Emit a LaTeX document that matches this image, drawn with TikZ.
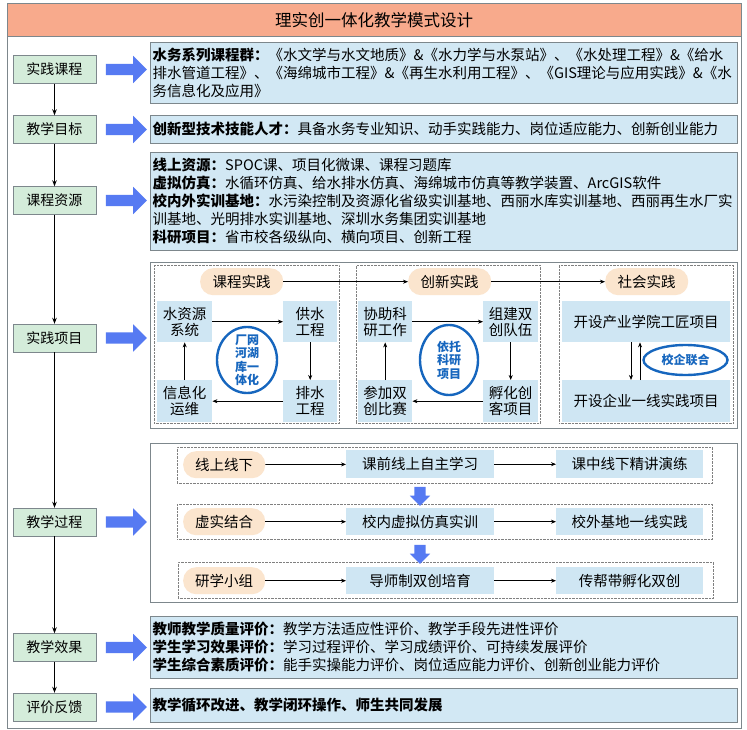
\documentclass[tikz,border=0pt]{standalone}
\usepackage{fontspec}
\setmainfont{Noto Sans CJK SC}
\usetikzlibrary{arrows.meta,shapes.geometric,shapes.arrows}
\definecolor{titlefill}{RGB}{248,170,140}
\definecolor{leftfill}{RGB}{212,236,218}
\definecolor{tfill}{RGB}{210,232,244}
\definecolor{ifill}{RGB}{207,230,243}
\definecolor{pfill}{RGB}{251,229,206}
\definecolor{ablue}{RGB}{86,122,242}
\definecolor{eblue}{RGB}{22,102,190}
\definecolor{bgray}{RGB}{125,135,140}
\tikzset{
 lbox/.style={draw=bgray, fill=leftfill, minimum width=83pt, minimum height=28pt, inner sep=0pt, font=\fontsize{14}{16}\selectfont},
 tbox/.style={draw=bgray, fill=tfill, anchor=north west, inner xsep=2.5pt, inner ysep=0pt, text width=582pt, align=left, font=\fontsize{14.5}{18}\selectfont},
 obox/.style={draw=bgray, fill=white, anchor=north west, inner sep=0pt},
 dbox/.style={draw=gray, densely dotted, anchor=north west, inner sep=0pt},
 ibox/.style={fill=ifill, anchor=north west, inner sep=0pt, align=center, font=\fontsize{14.5}{16}\selectfont},
 pill/.style={fill=pfill, rounded corners=13pt, anchor=north west, minimum width=83pt, minimum height=27pt, inner sep=0pt, font=\fontsize{14.5}{16}\selectfont},
 barrow/.style={single arrow, fill=ablue, draw=none, inner xsep=0pt, inner ysep=5.5pt, text height=0pt, text depth=0pt, text width=0pt, minimum height=41pt, minimum width=27pt, single arrow head extend=8pt},
 darrow/.style={single arrow, rotate=-90, fill=ablue, draw=none, inner xsep=0pt, inner ysep=5.5pt, text height=0pt, text depth=0pt, text width=0pt, minimum height=19pt, minimum width=20pt, single arrow head extend=4.5pt},
 conn/.style={-{Stealth[length=5pt,width=4pt]}, line width=0.7pt},
 vconn/.style={-{Stealth[length=6pt,width=4.5pt]}, line width=1.2pt},
 ell/.style={ellipse, draw=eblue, line width=2.4pt, inner sep=0pt},
 etext/.style={text=eblue, inner sep=0pt, align=center, font=\bfseries\fontsize{12}{13.5}\selectfont},
}
\begin{document}
\begin{tikzpicture}[x=1pt,y=-1pt]
\useasboundingbox (0,0) rectangle (747,730);
% frame and title
\node[draw=bgray, fill=white, anchor=north west, minimum width=734pt, minimum height=725pt, inner sep=0pt] (frame) at (7,3) {};
\node[draw=bgray, fill=titlefill, anchor=north west, minimum width=734pt, minimum height=33pt, inner sep=0pt, font=\fontsize{16.5}{18}\selectfont] (title) at (7,3) {理实创一体化教学模式设计};
% left column
\node[lbox] (l1) at (54.5,69.5) {实践课程};
\node[lbox] (l2) at (54.5,129.5) {教学目标};
\node[lbox] (l3) at (54.5,200.5) {课程资源};
\node[lbox] (l4) at (54.5,338) {实践项目};
\node[lbox] (l5) at (54.5,522) {教学过程};
\node[lbox] (l6) at (54.5,647.5) {教学效果};
\node[lbox] (l7) at (54.5,707) {评价反馈};
\draw[vconn] (l1) -- (l2);
\draw[vconn] (l2) -- (l3);
\draw[vconn] (l3) -- (l4);
\draw[vconn] (l4) -- (l5);
\draw[vconn] (l5) -- (l6);
\draw[vconn] (l6) -- (l7);
% big arrows
\node[barrow] (a1) at (123.5,69.5) {};
\node[barrow] (a2) at (123.5,129.5) {};
\node[barrow] (a3) at (123.5,200.5) {};
\node[barrow] (a4) at (123.5,338) {};
\node[barrow] (a5) at (123.5,522) {};
\node[barrow] (a6) at (123.5,647.5) {};
\node[barrow] (a7) at (123.5,707) {};
% text boxes
\node[tbox, minimum height=61pt] (b1) at (150,42) {\textbf{水务系列课程群：}《水文学与水文地质》\&《水力学与水泵站》、《水处理工程》\&《给水\\排水管道工程》、《海绵城市工程》\&《再生水利用工程》、《GIS理论与应用实践》\&《水\\务信息化及应用》};
\node[tbox, minimum height=28pt] (b2) at (150,115) {\textbf{创新型技术技能人才：}具备水务专业知识、动手实践能力、岗位适应能力、创新创业能力};
\node[tbox, minimum height=98pt] (b3) at (150,152) {\textbf{线上资源：}SPOC课、项目化微课、课程习题库\\\textbf{虚拟仿真：}水循环仿真、给水排水仿真、海绵城市仿真等教学装置、ArcGIS软件\\\textbf{校内外实训基地：}水污染控制及资源化省级实训基地、西丽水库实训基地、西丽再生水厂实\\训基地、光明排水实训基地、深圳水务集团实训基地\\\textbf{科研项目：}省市校各级纵向、横向项目、创新工程};
% practice projects
\node[obox, minimum width=587pt, minimum height=166pt] (pr) at (150,262) {};
\node[dbox, minimum width=185pt, minimum height=158pt] (d1) at (154,265) {};
\node[dbox, minimum width=184pt, minimum height=158pt] (d2) at (356,265) {};
\node[dbox, minimum width=174pt, minimum height=158pt] (d3) at (559,265) {};
\node[pill] (p1) at (200,268) {课程实践};
\node[pill] (p2) at (408,268) {创新实践};
\node[pill] (p3) at (605,268) {社会实践};
\node[ibox, minimum width=55pt, minimum height=41pt] (w1) at (157,301) {水资源\\系统};
\node[ibox, minimum width=54pt, minimum height=41pt] (w2) at (283,301) {供水\\工程};
\node[ibox, minimum width=54pt, minimum height=42pt] (w3) at (283,380) {排水\\工程};
\node[ibox, minimum width=55pt, minimum height=42pt] (w4) at (157,380) {信息化\\运维};
\node[ibox, minimum width=54pt, minimum height=41pt] (c1) at (358,301) {协助科\\研工作};
\node[ibox, minimum width=55pt, minimum height=41pt] (c2) at (483,301) {组建双\\创队伍};
\node[ibox, minimum width=55pt, minimum height=42pt] (c3) at (483,380) {孵化创\\客项目};
\node[ibox, minimum width=54pt, minimum height=42pt] (c4) at (358,380) {参加双\\创比赛};
\node[ibox, minimum width=168pt, minimum height=41pt] (s1) at (562,301) {开设产业学院工匠项目};
\node[ibox, minimum width=168pt, minimum height=42pt] (s2) at (562,380) {开设企业一线实践项目};
\node[ell, minimum width=60pt, minimum height=66pt] (e1) at (247,360) {};
\node[etext] (t1) at (e1) {厂网\\河湖\\库一\\体化};
\node[ell, minimum width=58pt, minimum height=70pt] (e2) at (449,360) {};
\node[etext] (t2) at (e2) {依托\\科研\\项目};
\node[ell, minimum width=84pt, minimum height=30pt] (e3) at (685.5,360) {};
\node[etext] (t3) at (e3) {校企联合};
\draw[conn] (p1) -- (p2);
\draw[conn] (p2) -- (p3);
\draw[conn] (w1) -- (w2);
\draw[conn] (w2) -- (w3);
\draw[conn] (w3) -- (w4);
\draw[conn] (w4) -- (w1);
\draw[conn] (c1) -- (c2);
\draw[conn] (c2) -- (c3);
\draw[conn] (c3) -- (c4);
\draw[conn] (c4) -- (c1);
\coordinate (k1) at (631,0);
\coordinate (k2) at (640,0);
\draw[conn] (k1 |- s1.south) -- (k1 |- s2.north);
\draw[conn] (k2 |- s2.north) -- (k2 |- s1.south);
% teaching process
\node[obox, minimum width=587pt, minimum height=159pt] (tp) at (150,443) {};
\node[dbox, minimum width=535pt, minimum height=36pt] (r1) at (177,447) {};
\node[dbox, minimum width=535pt, minimum height=35pt] (r2) at (177,504) {};
\node[dbox, minimum width=535pt, minimum height=36pt] (r3) at (178,562) {};
\node[pill, minimum width=82pt] (q1) at (183,451) {线上线下};
\node[pill, minimum width=82pt] (q2) at (183,508) {虚实结合};
\node[pill, minimum width=82pt] (q3) at (183,567) {研学小组};
\node[ibox, minimum width=148pt, minimum height=28pt] (x1) at (346,450) {课前线上自主学习};
\node[ibox, minimum width=147pt, minimum height=28pt] (y1) at (556,450) {课中线下精讲演练};
\node[ibox, minimum width=148pt, minimum height=27pt] (x2) at (346,508) {校内虚拟仿真实训};
\node[ibox, minimum width=147pt, minimum height=27pt] (y2) at (556,508) {校外基地一线实践};
\node[ibox, minimum width=148pt, minimum height=27pt] (x3) at (346,567) {导师制双创培育};
\node[ibox, minimum width=147pt, minimum height=27pt] (y3) at (556,567) {传帮带孵化双创};
\draw[conn] (q1) -- (x1);
\draw[conn] (x1) -- (y1);
\draw[conn] (q2) -- (x2);
\draw[conn] (x2) -- (y2);
\draw[conn] (q3) -- (x3);
\draw[conn] (x3) -- (y3);
\node[darrow] (da1) at (420,493.5) {};
\node[darrow] (da2) at (420,551.5) {};
% evaluation
\node[tbox, minimum height=62pt] (b6) at (150,616) {\textbf{教师教学质量评价：}教学方法适应性评价、教学手段先进性评价\\\textbf{学生学习效果评价：}学习过程评价、学习成绩评价、可持续发展评价\\\textbf{学生综合素质评价：}能手实操能力评价、岗位适应能力评价、创新创业能力评价};
\node[tbox, minimum height=34pt] (b7) at (150,688) {\textbf{教学循环改进、教学闭环操作、师生共同发展}};
\end{tikzpicture}
\end{document}
